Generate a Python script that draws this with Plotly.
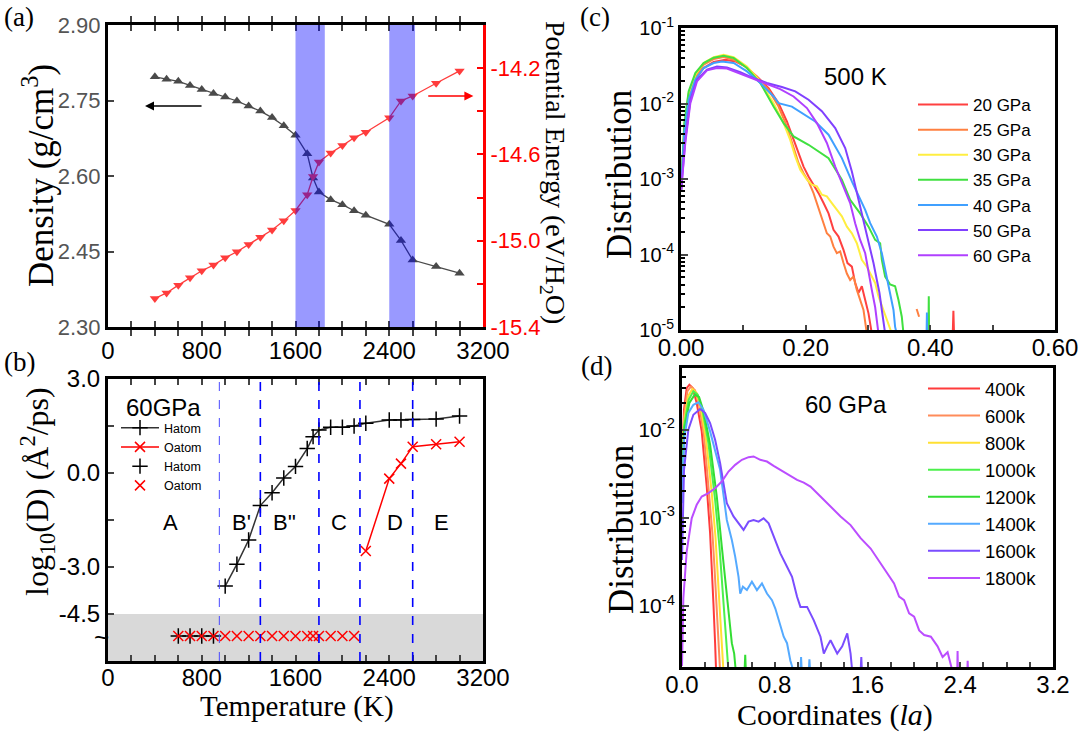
import plotly.graph_objects as go

W, H = 1080, 733
def px(x): return x / W
def py(y): return 1 - y / H

SANS = "Liberation Sans, Arial, sans-serif"
SERIF = "Liberation Serif, Times New Roman, serif"

# ---------------- (a) density / potential energy ----------------
temp_a = [400, 500, 600, 700, 800, 900, 1000, 1100, 1200, 1300, 1400, 1500, 1600,
          1700, 1750, 1800, 1900, 2000, 2100, 2200, 2400, 2500, 2600, 2800, 3000]
density = [2.797, 2.792, 2.788, 2.780, 2.772, 2.764, 2.757, 2.749, 2.739, 2.729, 2.716, 2.700, 2.681,
           2.644, 2.596, 2.568, 2.553, 2.543, 2.531, 2.522, 2.504, 2.472, 2.433, 2.420, 2.407]
energy = [-15.268, -15.242, -15.206, -15.172, -15.139, -15.113, -15.079, -15.051, -15.017, -14.984,
          -14.950, -14.908, -14.860, -14.787, -14.702, -14.635, -14.593, -14.559, -14.523, -14.497,
          -14.430, -14.352, -14.329, -14.270, -14.213]
bands_a = [(1600, 1850), (2400, 2620)]

# ---------------- (b) diffusion ----------------
t_h_line = [1000, 1100, 1200, 1300, 1400, 1500, 1600, 1700, 1750, 1800, 1900, 2000, 2100, 2200,
            2400, 2500, 2600, 2800, 3000]
logD_h_line = [-3.61, -2.91, -2.14, -1.04, -0.63, -0.16, 0.21, 0.78, 1.16, 1.37, 1.46, 1.46, 1.50,
               1.59, 1.69, 1.69, 1.71, 1.72, 1.82]
t_o_line = [2200, 2400, 2500, 2600, 2800, 3000]
logD_o_line = [-2.49, -0.18, 0.30, 0.84, 0.92, 1.00]
t_h_pts = [600, 700, 800, 900]
logD_h_pts = [-5.2, -5.2, -5.2, -5.2]
t_o_pts = [600, 700, 800, 900, 1000, 1100, 1200, 1300, 1400, 1500, 1600, 1700, 1750, 1800,
           1900, 2000, 2100]
logD_o_pts = [-5.2] * 17
region_bounds = [950, 1300, 1800, 2150, 2600]
region_names = ["A", "B'", "B''", "C", "D", "E"]
region_x = [535, 1140, 1504, 1970, 2450, 2842]

# ---------------- (c) distributions at 500 K ----------------
c20_x = [0, 0.0053, 0.0123, 0.023, 0.0363, 0.0524, 0.0711, 0.0871, 0.1031, 0.1218, 0.1405, 0.1565,
         0.1699, 0.1806, 0.1886, 0.1966, 0.2046, 0.2126, 0.2207, 0.2287, 0.2367, 0.2447, 0.2527,
         0.2607, 0.2671, 0.2741, 0.2794, 0.2848, 0.2901, 0.2955, 0.3008, 0.3061, None, 0.436, 0.437, 0.438]
c20_y = [6.8e-4, 4.05e-3, 1.12e-2, 2.07e-2, 2.95e-2, 3.54e-2, 3.8e-2, 3.61e-2, 3.1e-2, 2.28e-2, 1.6e-2,
         1.01e-2, 5.78e-3, 3.3e-3, 2.09e-3, 1.46e-3, 1.08e-3, 8.4e-4, 6.5e-4, 4.8e-4, 3.5e-4, 2.12e-4,
         1.73e-4, 1.15e-4, 7.7e-5, 6.9e-5, 4.2e-5, 3.1e-5, 3.8e-5, 2.5e-5, 1.66e-5, 9e-6, None, 9e-6, 1.8e-5, 9e-6]
c25_x = [0, 0.0053, 0.0123, 0.023, 0.0363, 0.0524, 0.0684, 0.0844, 0.1031, 0.1218, 0.1405, 0.1565,
         0.1699, 0.1806, 0.1886, 0.1966, 0.2046, 0.2126, 0.218, 0.2233, 0.2287, 0.234, 0.2394, 0.2447,
         0.25, 0.2554, 0.2607, 0.2661, 0.2714, 0.2768, 0.2821, 0.2874, 0.2928, 0.2981, None, 0.378, 0.382]
c25_y = [6.8e-4, 4.5e-3, 1.24e-2, 2.24e-2, 3.26e-2, 3.88e-2, 4.12e-2, 3.8e-2, 3.1e-2, 2.24e-2, 1.52e-2,
         9.1e-3, 4.96e-3, 2.7e-3, 1.62e-3, 1.19e-3, 9.3e-4, 6.5e-4, 4.8e-4, 3.5e-4, 2.6e-4, 1.91e-4,
         1.73e-4, 1.27e-4, 1.04e-4, 1.1e-4, 7.7e-5, 5.6e-5, 4.6e-5, 5.1e-5, 3.4e-5, 2.5e-5, 1.84e-5, 9e-6,
         None, 1.9e-5, 1.5e-5]
c30_x = [0, 0.0053, 0.0123, 0.023, 0.0363, 0.0524, 0.0684, 0.0844, 0.1058, 0.1272, 0.1485, 0.1646,
         0.1752, 0.1833, 0.1913, 0.202, 0.21, 0.218, 0.226, 0.234, 0.242, 0.25, 0.2581, 0.2661, 0.2741,
         0.2821, 0.2901, 0.2981, 0.3061, 0.3115, 0.3168, 0.3248, 0.3329, 0.3382]
c30_y = [6.8e-4, 4.96e-3, 1.37e-2, 2.4e-2, 3.44e-2, 4.12e-2, 4.43e-2, 4.12e-2, 3.1e-2, 1.96e-2, 1.01e-2,
         5.5e-3, 3.3e-3, 1.99e-3, 1.32e-3, 9.8e-4, 8.4e-4, 8.0e-4, 6.2e-4, 5.9e-4, 4.8e-4, 3.9e-4, 3.2e-4,
         2.34e-4, 1.91e-4, 1.41e-4, 8.5e-5, 6.9e-5, 5.1e-5, 4.2e-5, 2.8e-5, 1.84e-5, 1.22e-5, 9e-6]
c35_x = [0, 0.0053, 0.0123, 0.023, 0.0363, 0.0524, 0.0684, 0.0844, 0.1058, 0.1272, 0.1485, 0.1646,
         0.1806, 0.2046, 0.2367, 0.2581, 0.2714, 0.2874, 0.3008, 0.3115, 0.3195, 0.3222, 0.3275, 0.3355,
         0.3435, 0.3489, 0.3542, 0.3569, None, 0.397, 0.3975, 0.398]
c35_y = [6.8e-4, 5.5e-3, 1.45e-2, 2.53e-2, 3.44e-2, 4.04e-2, 4.3e-2, 4.0e-2, 2.95e-2, 1.87e-2, 9.1e-3,
         5.5e-3, 3.66e-3, 2.84e-3, 1.89e-3, 9.8e-4, 5.3e-4, 3.5e-4, 2.34e-4, 1.56e-4, 1.41e-4, 8.5e-5,
         5.1e-5, 4.0e-5, 3.8e-5, 2.5e-5, 1.5e-5, 9e-6, None, 9e-6, 2.8e-5, 9e-6]
c40_x = [0, 0.0053, 0.0123, 0.023, 0.0363, 0.0524, 0.0657, 0.0844, 0.1058, 0.1272, 0.1485, 0.1565,
         0.1779, 0.1939, 0.2153, 0.2367, 0.2581, 0.2741, 0.2955, 0.3035, 0.3142, 0.3222, 0.3302, 0.3355,
         0.3409, 0.3435, 0.346, None, 0.394, 0.3945, 0.395]
c40_y = [6.8e-4, 4.05e-3, 1.12e-2, 2.07e-2, 2.95e-2, 3.44e-2, 3.61e-2, 3.44e-2, 2.66e-2, 1.87e-2, 1.24e-2,
         1.01e-2, 9.1e-3, 7.46e-3, 5.78e-3, 3.86e-3, 1.89e-3, 9.3e-4, 3.9e-4, 2.6e-4, 1.73e-4, 1.04e-4,
         5.1e-5, 3.1e-5, 1.84e-5, 1.1e-5, 9e-6, None, 9e-6, 1.7e-5, 9e-6]
c50_x = [0, 0.0069, 0.015, 0.0256, 0.0417, 0.0577, 0.0737, 0.0951, 0.1165, 0.1378, 0.1619, 0.1833,
         0.2046, 0.226, 0.2474, 0.2634, 0.2741, 0.2848, 0.2928, 0.3008, 0.3088, 0.3142, 0.3184, 0.3222, 0.3275]
c50_y = [6.8e-4, 3.3e-3, 1.12e-2, 2.07e-2, 2.8e-2, 3.1e-2, 3.0e-2, 2.6e-2, 2.17e-2, 1.87e-2, 1.65e-2,
         1.45e-2, 1.12e-2, 7.9e-3, 4.72e-3, 2.57e-3, 1.26e-3, 5.3e-4, 2.9e-4, 1.56e-4, 7.7e-5, 4.6e-5,
         3.1e-5, 1.84e-5, 9e-6]
c60_x = [0, 0.0069, 0.015, 0.0256, 0.0417, 0.0577, 0.0737, 0.0951, 0.1165, 0.1378, 0.1592, 0.1806,
         0.202, 0.218, 0.234, 0.2474, 0.2607, 0.2714, 0.2794, 0.2874, 0.2955, 0.3008, 0.3061, 0.3115, 0.3168]
c60_y = [6.8e-4, 3.0e-3, 1.01e-2, 1.96e-2, 2.75e-2, 2.95e-2, 2.9e-2, 2.48e-2, 2.1e-2, 1.83e-2, 1.55e-2,
         1.24e-2, 8.7e-3, 5.5e-3, 3.0e-3, 1.46e-3, 8.0e-4, 4.8e-4, 2.6e-4, 1.56e-4, 1.04e-4, 5.6e-5,
         3.4e-5, 2.0e-5, 9e-6]
c_names = ["20 GPa", "25 GPa", "30 GPa", "35 GPa", "40 GPa", "50 GPa", "60 GPa"]
c_colors = ["#ff4040", "#ff8040", "#ffee40", "#40e040", "#40a0ff", "#8040ff", "#b040ff"]
c_xs = [c20_x, c25_x, c30_x, c35_x, c40_x, c50_x, c60_x]
c_ys = [c20_y, c25_y, c30_y, c35_y, c40_y, c50_y, c60_y]

# ---------------- (d) distributions at 60 GPa ----------------
d400_x = [0, 0.0173, 0.0404, 0.0635, 0.0923, 0.1269, 0.1702, 0.2135, 0.2424, 0.2568, 0.2712, 0.2856, 0.2943]
d400_y = [3.5e-3, 1.69e-2, 2.97e-2, 3.24e-2, 2.97e-2, 2.01e-2, 9.6e-3, 2.27e-3, 6.7e-4, 2.92e-4, 1.07e-4, 3.8e-5, 1.8e-5]
d600_x = [0, 0.0173, 0.0462, 0.0779, 0.1125, 0.15, 0.1904, 0.2337, 0.2625, 0.2799, 0.3001, 0.3174, 0.3289]
d600_y = [2.7e-3, 1.42e-2, 2.73e-2, 3.1e-2, 2.8e-2, 1.84e-2, 8.4e-3, 2.08e-3, 6.7e-4, 2.8e-4, 9.0e-5, 3.5e-5, 1.8e-5]
d800_x = [0, 0.0173, 0.0519, 0.0894, 0.1269, 0.1645, 0.2077, 0.2568, 0.2885, 0.3087, 0.3289, 0.3462, 0.3578]
d800_y = [2.27e-3, 1.19e-2, 2.39e-2, 2.9e-2, 2.61e-2, 1.69e-2, 7.69e-3, 1.91e-3, 6.14e-4, 2.35e-4, 8.3e-5, 3.5e-5, 1.8e-5]
d1000_x = [0, 0.0173, 0.0577, 0.0981, 0.1356, 0.1789, 0.2279, 0.2856, 0.3231, 0.352, 0.3722, 0.3866, 0.401]
d1000_y = [2.08e-3, 1.09e-2, 2.19e-2, 2.73e-2, 2.5e-2, 1.62e-2, 7.05e-3, 1.6e-3, 4.72e-4, 1.52e-4, 6.4e-5, 3.5e-5, 1.8e-5]
d1200_x = [0, 0.0173, 0.0635, 0.1096, 0.1471, 0.1904, 0.2424, 0.3001, 0.3433, 0.378, 0.4097, 0.4299,
           0.4501, 0.4645, None, 0.5395, 0.5453, 0.551]
d1200_y = [1.91e-3, 9.58e-3, 2.01e-2, 2.5e-2, 2.35e-2, 1.55e-2, 6.76e-3, 1.75e-3, 4.72e-4, 1.66e-4, 6.9e-5,
           3.8e-5, 2.9e-5, 1.8e-5, None, 1.8e-5, 2.8e-5, 1.8e-5]
d1400_x = [0, 0.0173, 0.0548, 0.0981, 0.1414, 0.1847, 0.2424, 0.2856, 0.3289, 0.3866, 0.4299, 0.4587,
           0.4876, 0.502, 0.5251, 0.5597, 0.603, 0.6463, 0.6896, 0.7328, 0.7761, 0.805, 0.8482, 0.8771,
           0.9059, 0.9348, 0.9636, None, 1.0214, 1.027, 1.033, None, 1.0935, 1.099, 1.105]
d1400_y = [1.47e-3, 7.69e-3, 1.55e-2, 1.92e-2, 2.05e-2, 1.69e-2, 9.58e-3, 5.93e-3, 3.51e-3, 9.49e-4,
           5.62e-4, 3.64e-4, 2.15e-4, 1.39e-4, 1.66e-4, 1.52e-4, 1.89e-4, 1.52e-4, 1.81e-4, 1.39e-4,
           1.17e-4, 9.4e-5, 5.8e-5, 4.5e-5, 3.8e-5, 2.4e-5, 1.8e-5, None, 1.8e-5, 2.65e-5, 1.8e-5,
           None, 1.8e-5, 2.5e-5, 1.8e-5]
d1600_x = [0, 0.0173, 0.0548, 0.0981, 0.1558, 0.1991, 0.2424, 0.2856, 0.3289, 0.3866, 0.4443, 0.502,
           0.5309, 0.5741, 0.6174, 0.6607, 0.704, 0.7473, 0.7905, 0.8482, 0.9059, 0.9492, 0.9925, 1.0214,
           1.0791, 1.1368, 1.1945, 1.2233, 1.2522, 1.281, 1.3387, 1.382, 1.4253, 1.4541, 1.4686,
           None, 1.5407, 1.5465, 1.552]
d1600_y = [3.33e-4, 3.51e-3, 1.0e-2, 1.48e-2, 1.72e-2, 1.55e-2, 1.19e-2, 7.69e-3, 4.18e-3, 1.47e-3,
           1.04e-3, 8.32e-4, 7.31e-4, 9.08e-4, 9.49e-4, 9.08e-4, 9.91e-4, 8.69e-4, 6.14e-4, 3.97e-4,
           2.8e-4, 2.15e-4, 1.28e-4, 9.8e-5, 9.8e-5, 6.9e-5, 4.5e-5, 2.9e-5, 3.5e-5, 4.1e-5, 2.9e-5,
           3.5e-5, 4.9e-5, 2.9e-5, 1.8e-5, None, 1.8e-5, 2.65e-5, 1.8e-5]
d1800_x = [0, 0.0115, 0.0404, 0.0837, 0.1269, 0.1702, 0.2279, 0.2856, 0.3433, 0.401, 0.4587, 0.5164,
           0.5741, 0.6174, 0.6751, 0.7328, 0.7905, 0.8482, 0.9204, 0.9925, 1.0502, 1.1079, 1.1945, 1.281,
           1.3676, 1.4541, 1.5407, 1.6272, 1.7138, 1.7715, 1.8292, 1.8725, 1.9158, 1.959, 2.0023, 2.0456,
           2.0889, 2.1466, 2.2043, 2.2476, 2.2908, 2.3341, None, 2.374, 2.377, 2.380, None, 2.461, 2.464, 2.467]
d1800_y = [2.1e-5, 1.22e-4, 4.14e-4, 9.91e-4, 1.41e-3, 1.75e-3, 1.91e-3, 2.17e-3, 2.59e-3, 3.36e-3, 4.0e-3,
           4.56e-3, 4.89e-3, 4.98e-3, 4.56e-3, 4.36e-3, 3.9e-3, 3.51e-3, 3.08e-3, 2.7e-3, 2.52e-3, 2.27e-3,
           1.75e-3, 1.35e-3, 1.04e-3, 8.3e-4, 5.9e-4, 4.5e-4, 3.05e-4, 2.35e-4, 1.81e-4, 1.28e-4, 1.17e-4,
           8.3e-5, 7.6e-5, 5.3e-5, 4.7e-5, 4.5e-5, 3.5e-5, 2.65e-5, 3.0e-5, 1.8e-5, None, 1.8e-5, 3.1e-5,
           1.8e-5, None, 1.8e-5, 2.4e-5, 1.8e-5]
d_names = ["400k", "600k", "800k", "1000k", "1200k", "1400k", "1600k", "1800k"]
d_colors = ["#ff3b3b", "#ff8c5a", "#ffe033", "#4cf04c", "#33dd33", "#55aaff", "#7a4dff", "#bb4dff"]
d_xs = [d400_x, d600_x, d800_x, d1000_x, d1200_x, d1400_x, d1600_x, d1800_x]
d_ys = [d400_y, d600_y, d800_y, d1000_y, d1200_y, d1400_y, d1600_y, d1800_y]

fig = go.Figure()

# (a)
fig.add_trace(go.Scatter(x=temp_a, y=density, mode="lines+markers", xaxis="x", yaxis="y",
                         line=dict(color="#4a4a4a", width=1.3),
                         marker=dict(symbol="triangle-up", size=9, color="#4a4a4a"), showlegend=False))
fig.add_trace(go.Scatter(x=temp_a, y=energy, mode="lines+markers", xaxis="x", yaxis="y2",
                         line=dict(color="#ff3c3c", width=1.3),
                         marker=dict(symbol="triangle-down", size=9, color="#ff3c3c"), showlegend=False))

# (b)
fig.add_trace(go.Scatter(x=t_h_line, y=logD_h_line, mode="lines+markers", name="Hatom", xaxis="x2", yaxis="y3",
                         line=dict(color="#333333", width=1.5),
                         marker=dict(symbol="cross-thin", size=11, color="black", line=dict(width=1.5, color="black")),
                         legend="legend"))
fig.add_trace(go.Scatter(x=t_o_line, y=logD_o_line, mode="lines+markers", name="Oatom", xaxis="x2", yaxis="y3",
                         line=dict(color="#ff0000", width=1.5),
                         marker=dict(symbol="x-thin", size=10, color="red", line=dict(width=1.5, color="red")),
                         legend="legend"))
fig.add_trace(go.Scatter(x=t_h_pts, y=logD_h_pts, mode="markers", name="Hatom", xaxis="x2", yaxis="y3",
                         marker=dict(symbol="cross-thin", size=11, color="black", line=dict(width=1.5, color="black")),
                         legend="legend"))
fig.add_trace(go.Scatter(x=t_o_pts, y=logD_o_pts, mode="markers", name="Oatom", xaxis="x2", yaxis="y3",
                         marker=dict(symbol="x-thin", size=10, color="red", line=dict(width=1.5, color="red")),
                         legend="legend"))

# (c)
for n, col, xs, ys in zip(c_names, c_colors, c_xs, c_ys):
    fig.add_trace(go.Scatter(x=xs, y=ys, mode="lines", name=n, xaxis="x3", yaxis="y4",
                             line=dict(color=col, width=2), legend="legend2", connectgaps=False))
# (d)
for n, col, xs, ys in zip(d_names, d_colors, d_xs, d_ys):
    fig.add_trace(go.Scatter(x=xs, y=ys, mode="lines", name=n, xaxis="x4", yaxis="y5",
                             line=dict(color=col, width=2), legend="legend3", connectgaps=False))

# empty traces that attach the tick-label axes for (b), (c) and (d)
fig.add_trace(go.Scatter(x=[None], y=[None], xaxis="x5", yaxis="y3", showlegend=False, hoverinfo="skip"))
fig.add_trace(go.Scatter(x=[None], y=[None], xaxis="x6", yaxis="y4", showlegend=False, hoverinfo="skip"))
fig.add_trace(go.Scatter(x=[None], y=[None], xaxis="x7", yaxis="y5", showlegend=False, hoverinfo="skip"))

dom_a_x = [px(108), px(483)]
dom_a_y = [py(327), py(25)]
dom_b_y = [py(661), py(379)]
dom_c_x = [px(681), px(1055)]
dom_c_y = [py(330), py(28)]
dom_d_x = [px(682), px(1053)]
dom_d_y = [py(667), py(368)]

temp_ticks = list(range(0, 3201, 200))
temp_text = [str(t) if t % 800 == 0 else "" for t in temp_ticks]
c_ticks = [0, 0.1, 0.2, 0.3, 0.4, 0.5, 0.6]
c_text = ["0.00", "", "0.20", "", "0.40", "", "0.60"]
d_ticks = [i * 0.2 for i in range(17)]
d_text = [("%.1f" % (i * 0.2)) if i % 4 == 0 else "" for i in range(17)]

common = dict(showgrid=False, zeroline=False, showline=True, linecolor="black", linewidth=3)
labels_only = dict(showgrid=False, zeroline=False, showline=False, ticks="", side="bottom")

def log_minor(lo, hi):
    vals = []
    for e in range(lo, hi):
        for m in range(2, 10):
            vals.append(m * 10.0 ** e)
    return vals

fig.update_layout(
    width=W, height=H, margin=dict(l=0, r=0, t=0, b=0, autoexpand=False),
    paper_bgcolor="white", plot_bgcolor="white",
    font=dict(family=SANS, color="black"),
    xaxis=dict(domain=dom_a_x, anchor="y", range=[0, 3200], tickmode="array", tickvals=temp_ticks,
               ticktext=temp_text, ticks="inside", ticklen=6, tickwidth=2, mirror="allticks",
               tickfont=dict(size=24, family=SANS), **common),
    yaxis=dict(domain=dom_a_y, anchor="x", range=[2.30, 2.90], tickmode="array",
               tickvals=[2.30, 2.45, 2.60, 2.75, 2.90], ticktext=["2.30", "2.45", "2.60", "2.75", "2.90"],
               ticks="inside", ticklen=6, tickwidth=2, tickfont=dict(size=22, color="#555555", family=SANS),
               mirror=False, **common),
    yaxis2=dict(overlaying="y", anchor="x", side="right", range=[-15.4, -14.0], tickmode="array",
                tickvals=[-15.4, -15.2, -15.0, -14.8, -14.6, -14.4, -14.2, -14.0],
                ticktext=["-15.4", "", "-15.0", "", "-14.6", "", "-14.2", ""],
                ticks="inside", ticklen=6, tickwidth=2, tickcolor="red",
                tickfont=dict(size=22, color="red", family=SANS),
                showgrid=False, zeroline=False, showline=True, linecolor="red", linewidth=3),
    xaxis2=dict(domain=dom_a_x, anchor="y3", range=[0, 3200], tickmode="array", tickvals=temp_ticks,
                showticklabels=False, ticks="inside", ticklen=6, tickwidth=2, mirror="allticks", **common),
    xaxis5=dict(overlaying="x2", anchor="free", position=py(661), range=[0, 3200], tickmode="array",
                tickvals=temp_ticks, ticktext=temp_text, tickfont=dict(size=24, family=SANS), **labels_only),
    yaxis3=dict(domain=dom_b_y, anchor="x2", range=[-6, 3], tickmode="array",
                tickvals=[3, 1.5, 0, -1.5, -3, -4.5], ticktext=["3.0", "", "0.0", "", "-3.0", "-4.5"],
                ticks="inside", ticklen=6, tickwidth=2, mirror=True,
                tickfont=dict(size=24, family=SANS), **common),
    xaxis3=dict(domain=dom_c_x, anchor="y4", range=[0, 0.6], tickmode="array", tickvals=c_ticks,
                showticklabels=False, ticks="inside", ticklen=5, tickwidth=2, mirror=True, **common),
    xaxis6=dict(overlaying="x3", anchor="free", position=py(331), range=[0, 0.6], tickmode="array",
                tickvals=c_ticks, ticktext=c_text, tickfont=dict(size=24, family=SANS), **labels_only),
    yaxis4=dict(domain=dom_c_y, anchor="x3", type="log", range=[-5, -1], tickmode="array",
                tickvals=[1e-5, 1e-4, 1e-3, 1e-2, 1e-1],
                ticktext=["10<sup>-5</sup>", "10<sup>-4</sup>", "10<sup>-3</sup>", "10<sup>-2</sup>", "10<sup>-1</sup>"],
                ticks="inside", ticklen=7, tickwidth=2, mirror=True,
                minor=dict(tickmode="array", tickvals=log_minor(-5, -1), ticks="inside", ticklen=4,
                           tickwidth=1.5, tickcolor="black", showgrid=False),
                tickfont=dict(size=20, family=SANS), **common),
    xaxis4=dict(domain=dom_d_x, anchor="y5", range=[0, 3.2], tickmode="array", tickvals=d_ticks,
                showticklabels=False, ticks="inside", ticklen=5, tickwidth=2, mirror=True, **common),
    xaxis7=dict(overlaying="x4", anchor="free", position=py(668), range=[0, 3.2], tickmode="array",
                tickvals=d_ticks, ticktext=d_text, tickfont=dict(size=24, family=SANS), **labels_only),
    yaxis5=dict(domain=dom_d_y, anchor="x4", type="log", range=[-4.69, -1.30], tickmode="array",
                tickvals=[1e-4, 1e-3, 1e-2],
                ticktext=["10<sup>-4</sup>", "10<sup>-3</sup>", "10<sup>-2</sup>"],
                ticks="inside", ticklen=7, tickwidth=2, mirror=True,
                minor=dict(tickmode="array", tickvals=log_minor(-5, -1), ticks="inside", ticklen=4,
                           tickwidth=1.5, tickcolor="black", showgrid=False),
                tickfont=dict(size=21, family=SANS), **common),
    legend=dict(x=px(116), y=py(413), xanchor="left", yanchor="top", bgcolor="rgba(0,0,0,0)",
                font=dict(size=12.5, family=SANS), itemwidth=38, tracegroupgap=0),
    legend2=dict(x=px(913), y=py(87), xanchor="left", yanchor="top", bgcolor="rgba(0,0,0,0)",
                 font=dict(size=17, family=SANS), itemwidth=50, tracegroupgap=0),
    legend3=dict(x=px(923), y=py(370), xanchor="left", yanchor="top", bgcolor="rgba(0,0,0,0)",
                 font=dict(size=18.5, family=SANS), itemwidth=52, tracegroupgap=0),
)

shapes = []
for x0, x1 in bands_a:
    shapes.append(dict(type="rect", xref="x", yref="y domain", x0=x0, x1=x1, y0=0, y1=1,
                       fillcolor="rgba(0,0,255,0.4)", line=dict(width=0), layer="above"))
shapes.append(dict(type="rect", xref="x2 domain", yref="y3", x0=0, x1=1, y0=-6, y1=-4.5,
                   fillcolor="#d9d9d9", line=dict(width=0), layer="below"))
for i, xb in enumerate(region_bounds):
    shapes.append(dict(type="line", xref="x2", yref="y3 domain", x0=xb, x1=xb, y0=0, y1=1,
                       line=dict(color="#4a4aff" if i == 0 else "#0000ff", width=1 if i == 0 else 1.6,
                                 dash="dash"), layer="above"))
fig.update_layout(shapes=shapes)

def note(x, y, text, size, family=SANS, angle=0, color="black"):
    return dict(x=px(x), y=py(y), xref="paper", yref="paper", text=text, showarrow=False,
                xanchor="center", yanchor="middle", textangle=angle,
                font=dict(size=size, family=family, color=color))

ann = []
# arrows in (a)
ann.append(dict(x=316, y=2.739, ax=811, ay=2.739, xref="x", yref="y", axref="x", ayref="y", text="",
                showarrow=True, arrowhead=2, arrowsize=1.2, arrowwidth=1.5, arrowcolor="black"))
ann.append(dict(x=3118, y=2.759, ax=2720, ay=2.759, xref="x", yref="y", axref="x", ayref="y", text="",
                showarrow=True, arrowhead=2, arrowsize=1.2, arrowwidth=1.5, arrowcolor="red"))
# region labels (b)
for name, xr in zip(region_names, region_x):
    ann.append(dict(x=xr, y=-1.58, xref="x2", yref="y3", text=name, showarrow=False,
                    xanchor="center", yanchor="middle", font=dict(size=22, family=SANS)))
ann.append(note(163, 407, "60GPa", 24))
ann.append(note(101, 637, "~", 26))
ann.append(note(855, 76, "500 K", 24))
ann.append(note(846, 404, "60 GPa", 24))
# axis titles
ann.append(note(38, 176, "Density (g/cm<sup>3</sup>)", 35, SERIF, -90))
ann.append(note(553, 172, "Potential Energy (eV/H<sub>2</sub>O)", 28, SERIF, 90))
ann.append(note(37, 492, "log<sub>10</sub>(D) (\u00c5<sup>2</sup>/ps)", 32, SERIF, -90))
ann.append(note(297, 706, "Temperature (K)", 29, SERIF))
ann.append(note(620, 175, "Distribution", 35, SERIF, -90))
ann.append(note(621, 530, "Distribution", 35, SERIF, -90))
ann.append(note(835, 715, "Coordinates (<i>la</i>)", 30, SERIF))
# panel labels
for lab, xx, yy in [("(a)", 19, 17), ("(b)", 19, 362), ("(c)", 595, 17), ("(d)", 596, 366)]:
    ann.append(note(xx, yy, lab, 27, SERIF))
fig.update_layout(annotations=ann)

fig.write_html("out.html")
